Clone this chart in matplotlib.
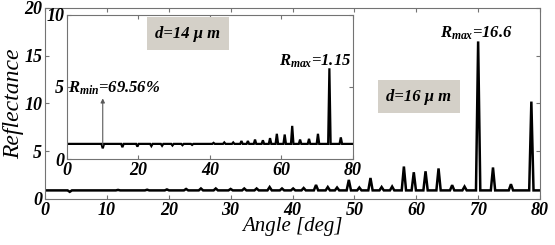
import matplotlib
matplotlib.use("Agg")
import matplotlib.pyplot as plt

plt.rcParams["font.family"] = ["Liberation Serif", "DejaVu Serif"]
plt.rcParams["font.weight"] = "bold"
plt.rcParams["font.style"] = "italic"
plt.rcParams["mathtext.fontset"] = "custom"
plt.rcParams["mathtext.it"] = "Liberation Serif:italic:bold"
plt.rcParams["mathtext.rm"] = "Liberation Serif:bold"

# main curve, d = 16 um: baseline level and spike positions / tops (deg, reflectance)
main_base = 0.9
main_angle = [4.0, 11.8, 16.5, 19.7, 22.8, 25.2, 27.6, 30.0, 32.2, 34.2, 36.3,
              38.3, 40.1, 41.8, 43.8, 45.7, 47.2, 49.1, 50.8, 52.6, 54.4, 56.1,
              58.0, 59.6, 61.5, 63.6, 65.8, 67.8, 70.0, 72.4, 75.3, 78.6]
main_value = [0.75, 0.95, 0.97, 1.0, 1.05, 1.1, 1.1, 1.05, 1.1, 1.1, 1.25,
              1.1, 1.1, 1.15, 1.47, 1.25, 1.2, 2.0, 1.2, 2.2, 1.25, 1.3,
              3.4, 2.8, 2.9, 3.2, 1.45, 1.3, 16.5, 3.3, 1.55, 10.2]

# inset curve, d = 14 um
inset_base = 1.05
inset_angle = [10.0, 15.5, 19.7, 23.6, 26.6, 29.5, 32.3, 35.0, 41.0, 44.0,
               46.5, 48.8, 50.6, 52.6, 54.8, 56.8, 58.7, 60.9, 63.0, 65.2,
               67.7, 70.2, 73.4, 76.6]
inset_value = [0.74, 0.82, 0.86, 0.9, 0.92, 0.94, 0.96, 0.98, 1.12, 1.15,
               1.15, 1.25, 1.25, 1.35, 1.3, 1.45, 1.75, 1.7, 2.3, 1.35,
               1.4, 1.75, 6.3, 1.5]

HALF_W = 0.35
GRAY_BOX = "#d4d0c8"
SPINE = "0.45"


def spikes(angles, values, base, x_end=80):
    xs, ys = [0.0], [base]
    for a, v in zip(angles, values):
        xs += [a - HALF_W, a, a + HALF_W]
        ys += [base, v, base]
    xs.append(x_end)
    ys.append(base)
    return xs, ys


def style_axes(ax):
    for s in ax.spines.values():
        s.set_color(SPINE)
        s.set_linewidth(0.8)
    ax.tick_params(direction="in", length=3, width=0.8, color=SPINE,
                   labelsize=13, pad=2, top=True, right=True)


fig = plt.figure(figsize=(5.55, 2.45), dpi=100)

ax = fig.add_axes([0.0811, 0.1878, 0.8919, 0.7796])
x, y = spikes(main_angle, main_value, main_base)
ax.plot(x, y, color="black", lw=1.8, solid_joinstyle="miter")
ax.set_xlim(0, 80)
ax.set_ylim(0, 20)
ax.set_xticks(range(0, 81, 10))
ax.set_yticks(range(0, 21, 5))
style_axes(ax)
ax.set_xlabel("Angle [deg]", fontsize=15, labelpad=-1)
ax.set_ylabel("Reflectance", fontsize=17, labelpad=0)
ax.text(69.7, 16.9, r"$R_{max}$=16.6", fontsize=12, ha="center", va="baseline")
ax.text(60.4, 10.7, "d=16 μ m", fontsize=12, ha="center", va="center",
        bbox=dict(boxstyle="square,pad=0.5", fc=GRAY_BOX, ec="none"))

ins = fig.add_axes([0.1207, 0.351, 0.5153, 0.5878])
x, y = spikes(inset_angle, inset_value, inset_base)
ins.plot(x, y, color="black", lw=1.6, solid_joinstyle="miter")
ins.set_xlim(0, 80)
ins.set_ylim(0, 10)
ins.set_xticks(range(0, 81, 20))
ins.set_yticks([0, 5, 10])
style_axes(ins)
ins.annotate("", xy=(10, 4.4), xytext=(10, 0.75),
             arrowprops=dict(arrowstyle="-|>", color="0.35", lw=0.8,
                             mutation_scale=6))
ins.text(0.3, 4.6, r"$R_{min}$=69.56%", fontsize=12, ha="left", va="baseline")
ins.text(69.4, 6.5, r"$R_{max}$=1.15", fontsize=12, ha="center", va="baseline")
ins.text(33.8, 8.7, "d=14 μ m", fontsize=12, ha="center", va="center",
         bbox=dict(boxstyle="square,pad=0.5", fc=GRAY_BOX, ec="none"))

fig.savefig("out.png", dpi=100)
